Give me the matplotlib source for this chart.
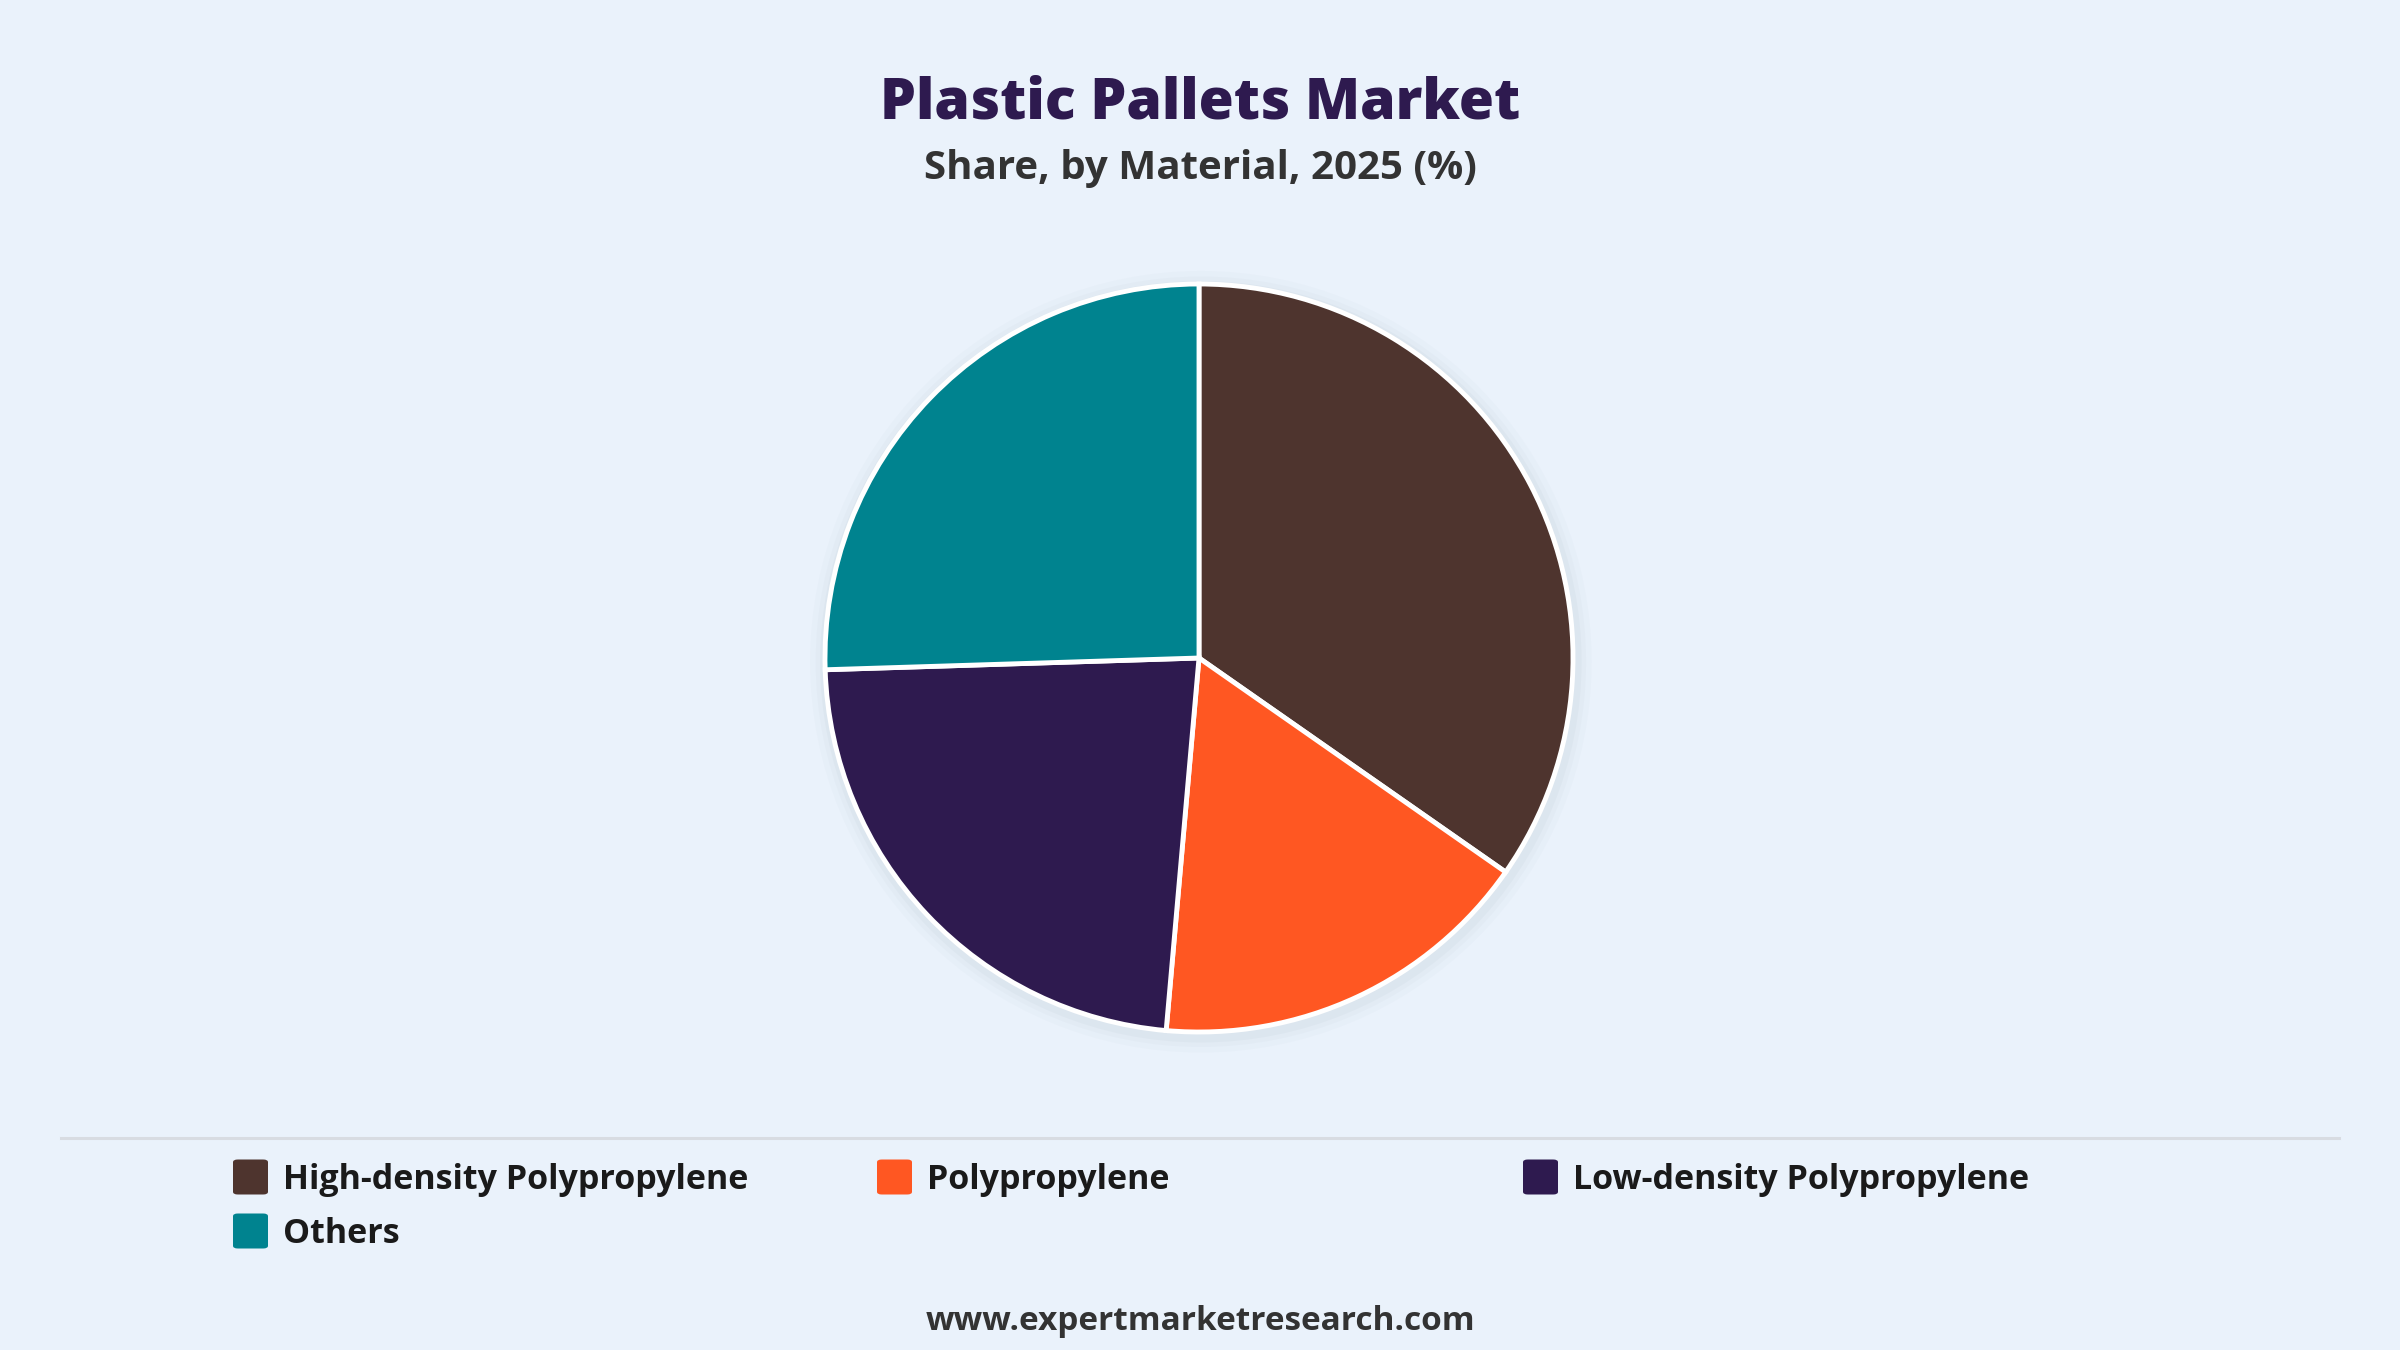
import matplotlib.pyplot as plt
from matplotlib.patches import FancyBboxPatch, Circle
from matplotlib.lines import Line2D

# data
materials = ['High-density Polypropylene', 'Polypropylene', 'Low-density Polypropylene', 'Others']
shares = [34.7, 16.7, 23.1, 25.5]
colors = ['#4E342E', '#FF5722', '#2E1A4F', '#00838F']

bg = '#EAF2FB'
plt.rcParams['font.family'] = ['Open Sans', 'DejaVu Sans']

fig = plt.figure(figsize=(24, 13.5), dpi=100, facecolor=bg)

# title block
fig.text(0.5, 1 - 104 / 1350, 'Plastic Pallets Market', ha='center', va='center',
         fontsize=41, fontweight='heavy', color='#2E1A4F')
fig.text(0.5, 1 - 168 / 1350, 'Share, by Material, 2025 (%)', ha='center', va='center',
         fontsize=29, fontweight='bold', color='#333333')

# pie
cx, cy, r = 1199, 658, 374
pad = 1.06
ax = fig.add_axes([(cx - r * pad) / 2400, (1350 - cy - r * pad) / 1350,
                   2 * r * pad / 2400, 2 * r * pad / 1350])
ax.set_facecolor(bg)
# soft shadow
for k, a in zip([1.045, 1.03, 1.018], [0.03, 0.04, 0.06]):
    ax.add_patch(Circle((0.005, -0.01), k, color='#8a96a8', alpha=a, lw=0, zorder=0))
ax.pie(shares, colors=colors, startangle=90, counterclock=False, radius=1,
       wedgeprops=dict(edgecolor='white', linewidth=3.5), normalize=True)
ax.set_xlim(-pad, pad)
ax.set_ylim(-pad, pad)
ax.set_aspect('equal')
ax.axis('off')

# separator
fig.add_artist(Line2D([61 / 2400, 2339 / 2400], [1 - 1138 / 1350] * 2,
                      color='#d8dce2', linewidth=2.2))

# legend, row major, 3 columns
col_x = [233, 877, 1523]
row_y = [1177, 1231]
sq = 35
for i, (lab, c) in enumerate(zip(materials, colors)):
    x0 = col_x[i % 3]
    y0 = row_y[i // 3]
    fig.add_artist(FancyBboxPatch(((x0) / 2400, (1350 - y0 - sq / 2) / 1350),
                                  sq / 2400, sq / 1350,
                                  boxstyle='round,pad=0,rounding_size=0.002',
                                  transform=fig.transFigure, facecolor=c, edgecolor='none'))
    fig.text((x0 + sq + 15) / 2400, 1 - (y0 + 3) / 1350, lab, ha='left', va='center',
             fontsize=24.5, fontweight='bold', color='#1a1a1a')

fig.text(0.5, 1 - 1322 / 1350, 'www.expertmarketresearch.com', ha='center', va='center',
         fontsize=24, fontweight='bold', color='#333333')

fig.savefig('out.png', dpi=100, facecolor=bg)
